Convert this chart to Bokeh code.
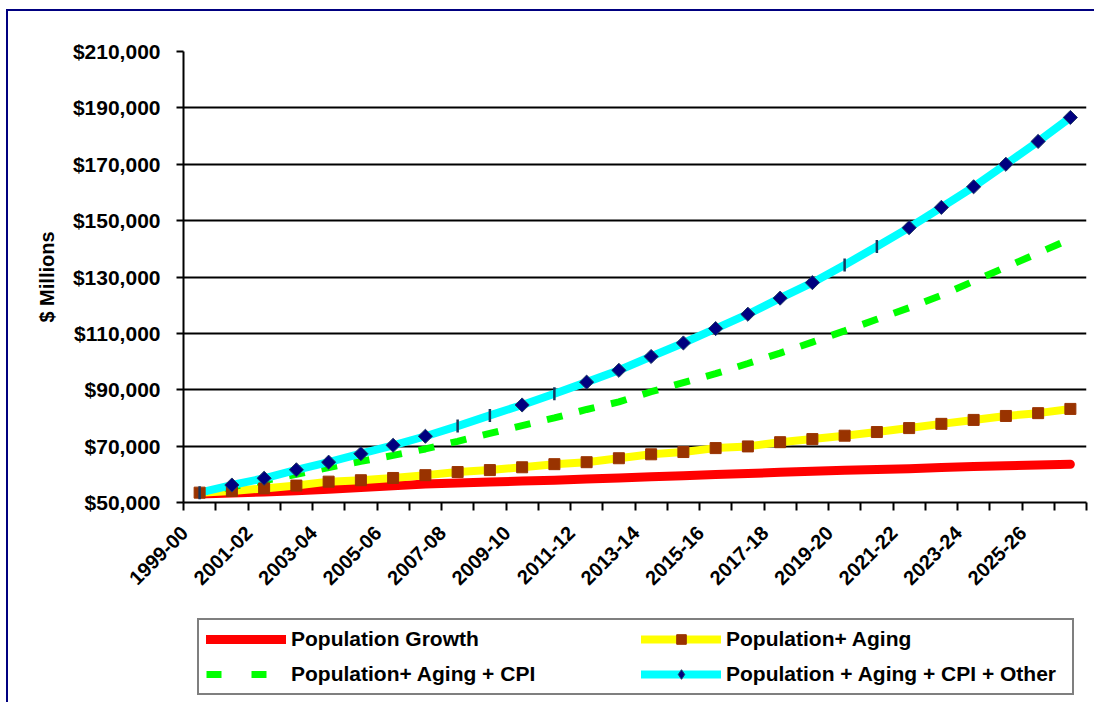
import math
from bokeh.plotting import figure
from bokeh.layouts import column
from bokeh.models import (Range1d, FixedTicker, NumeralTickFormatter, Legend, LegendItem,
                          ColumnDataSource, CDSView, IndexFilter)
from bokeh.embed import file_html
from bokeh.resources import INLINE

# ---- data -------------------------------------------------------------
years = ["1999-00", "2000-01", "2001-02", "2002-03", "2003-04", "2004-05", "2005-06",
         "2006-07", "2007-08", "2008-09", "2009-10", "2010-11", "2011-12", "2012-13",
         "2013-14", "2014-15", "2015-16", "2016-17", "2017-18", "2018-19", "2019-20",
         "2020-21", "2021-22", "2022-23", "2023-24", "2024-25", "2025-26", "2026-27"]

pop_growth = [53000, 53350, 53750, 54150, 54700, 55300, 55900, 56550, 56950, 57250,
              57600, 57900, 58300, 58700, 59100, 59500, 59900, 60300, 60700, 61100,
              61450, 61750, 62000, 62400, 62750, 63000, 63300, 63550]

pop_aging = [53500, 54100, 55000, 56000, 57400, 57900, 58700, 59700, 60800, 61500,
             62500, 63600, 64300, 65700, 67100, 67900, 69300, 69900, 71400, 72500,
             73700, 75000, 76400, 77900, 79300, 80700, 81700, 83200]

pop_aging_cpi = [53500, 55500, 57700, 60000, 62400, 64600, 66700, 69000, 71700, 74500,
                 77300, 80000, 83000, 85700, 89300, 92500, 95700, 99300, 103000, 106900,
                 110900, 115000, 119100, 123500, 128500, 133500, 138500, 143500]

pop_aging_cpi_other = [53500, 56200, 58600, 61600, 64300, 67300, 70300, 73500, 77100, 80900,
                       84600, 88600, 92700, 96900, 101800, 106600, 111700, 116800, 122500, 128000,
                       134300, 140800, 147500, 154700, 162000, 170000, 178100, 186600]

y_ticks = [50000, 70000, 90000, 110000, 130000, 150000, 170000, 190000, 210000]

series_names = ["Population Growth", "Population+ Aging",
                "Population+ Aging + CPI", "Population + Aging + CPI + Other"]

# ---- styles -------------------------------------------------------------
FONT = "Liberation Sans"
RED = dict(line_color="#FF0000", line_width=9, line_cap="round", line_join="round")
YEL = dict(line_color="#FFFF00", line_width=8, line_cap="round", line_join="round")
GRN = dict(line_color="#00FF00", line_width=7)
CYN = dict(line_color="#00FFFF", line_width=8, line_cap="round", line_join="round")
SQ = dict(marker="square", size=11, fill_color="#993300", line_color="#993300")
DM = dict(fill_color="#000080", line_color="#1F3864", line_width=1)

n = len(years)
x = list(range(n))
src = ColumnDataSource(dict(x=x, pg=pop_growth, pa=pop_aging, pac=pop_aging_cpi,
                            paco=pop_aging_cpi_other))

# ---- main figure ----------------------------------------------------------
p = figure(width=1086, height=595, output_backend="svg", toolbar_location=None,
           x_range=Range1d(-0.5, n - 0.5), y_range=Range1d(50000, 210000),
           min_border_left=175, min_border_right=8, min_border_top=40, min_border_bottom=104)
p.background_fill_color = "white"
p.border_fill_color = "white"
p.outline_line_color = None

p.line("x", "pg", source=src, **RED)
p.line("x", "pa", source=src, **YEL)
p.line("x", "pac", source=src, line_dash="16 17", line_dash_offset=8, **GRN)
p.line("x", "paco", source=src, **CYN)
p.scatter("x", "pa", source=src, **SQ)

dash_idx = [0, 8, 9, 11, 20, 21]
diam_idx = [i for i in x if i not in dash_idx]
p.scatter("x", "paco", source=src, view=CDSView(filter=IndexFilter(diam_idx)),
          marker="square", angle=math.pi / 4, size=10, **DM)
p.scatter("x", "paco", source=src, view=CDSView(filter=IndexFilter(dash_idx)),
          marker="dash", angle=math.pi / 2, size=13, line_color="#17375E", line_width=2.5)

yt = FixedTicker(ticks=y_ticks)
p.yaxis.ticker = yt
p.ygrid.ticker = yt
p.yaxis.formatter = NumeralTickFormatter(format="$0,0")
p.yaxis.axis_line_color = "black"
p.yaxis.axis_line_width = 2
p.yaxis.major_tick_line_color = "black"
p.yaxis.major_tick_line_width = 2
p.yaxis.major_tick_out = 7
p.yaxis.major_tick_in = 0
p.yaxis.minor_tick_line_color = None
p.yaxis.major_label_standoff = 16
p.yaxis.major_label_text_font = FONT
p.yaxis.major_label_text_font_style = "bold"
p.yaxis.major_label_text_font_size = "21px"
p.yaxis.major_label_text_color = "black"
p.yaxis.axis_label = "$ Millions"
p.yaxis.axis_label_text_font = FONT
p.yaxis.axis_label_text_font_style = "bold"
p.yaxis.axis_label_text_font_size = "20px"
p.yaxis.axis_label_text_color = "black"
p.yaxis.axis_label_standoff = 12

label_pos = [round(i - 0.47, 2) for i in range(0, n, 2)]
p.xaxis.ticker = FixedTicker(ticks=label_pos, minor_ticks=[i - 0.5 for i in range(n + 1)])
p.xaxis.major_label_overrides = {pos: years[2 * k] for k, pos in enumerate(label_pos)}
p.xaxis.axis_line_color = "black"
p.xaxis.axis_line_width = 2
p.xaxis.major_tick_line_color = None
p.xaxis.major_tick_out = 0
p.xaxis.major_tick_in = 0
p.xaxis.minor_tick_line_color = "black"
p.xaxis.minor_tick_line_width = 2
p.xaxis.minor_tick_out = 8
p.xaxis.minor_tick_in = 0
p.xaxis.major_label_orientation = math.pi / 4
p.xaxis.major_label_standoff = 19
p.xaxis.major_label_text_font = FONT
p.xaxis.major_label_text_font_style = "bold"
p.xaxis.major_label_text_font_size = "20px"
p.xaxis.major_label_text_color = "black"

p.xgrid.grid_line_color = None
p.ygrid.grid_line_color = "black"
p.ygrid.grid_line_width = 2

# ---- legend strip (key renderers share the data, drawn off-range) ----------
q = figure(width=1086, height=96, output_backend="svg", toolbar_location=None,
           x_range=Range1d(-100, -99), y_range=Range1d(-100, -99),
           x_axis_type=None, y_axis_type=None,
           min_border_left=0, min_border_right=0, min_border_top=0, min_border_bottom=0)
q.background_fill_color = "white"
q.border_fill_color = "white"
q.outline_line_color = None
q.grid.visible = False

k_red = q.line("x", "pg", source=src, **RED)
k_yel = q.line("x", "pa", source=src, **YEL)
k_sq = q.scatter("x", "pa", source=src, marker="square", size=12,
                 fill_color="#993300", line_color="#993300")
k_grn = q.line("x", "pac", source=src, line_dash="15 30", **GRN)
k_cyn = q.line("x", "paco", source=src, **CYN)
k_dm = q.scatter("x", "paco", source=src, marker="diamond", size=17, **DM)

items = [
    LegendItem(label=series_names[0], renderers=[k_red]),
    LegendItem(label=series_names[2], renderers=[k_grn]),
    LegendItem(label=series_names[1], renderers=[k_yel, k_sq]),
    LegendItem(label=series_names[3], renderers=[k_cyn, k_dm]),
]
legend = Legend(items=items, location=(14, 7), ncols=2, margin=0,
                padding=7, spacing=11, glyph_width=80, glyph_height=24,
                label_standoff=5, label_width=339, label_height=24,
                label_text_font=FONT, label_text_font_style="bold",
                label_text_font_size="21px", label_text_color="black",
                border_line_color="black", border_line_width=2,
                background_fill_color="white", background_fill_alpha=1)
q.add_layout(legend)

layout = column(p, q, spacing=0,
                styles={"margin-left": "6px", "margin-top": "9px",
                        "border-left": "2px solid #000080", "border-top": "2px solid #000080"})

open("out.html", "w").write(file_html(layout, INLINE))
